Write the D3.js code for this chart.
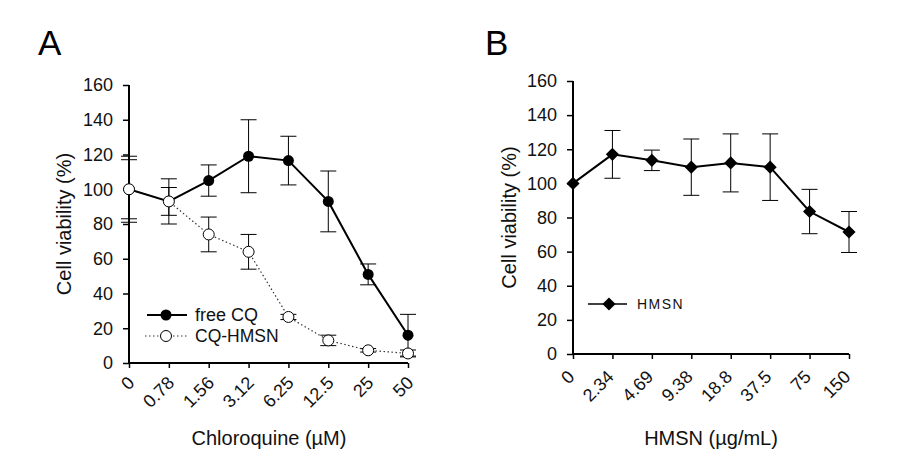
<!DOCTYPE html>
<html><head><meta charset="utf-8">
<script src="https://cdn.jsdelivr.net/npm/d3@7"></script>
<style>
body{margin:0;background:#fff;}
svg{display:block;font-family:Arial,"Liberation Sans",sans-serif;}
</style></head>
<body><svg id="c" width="900" height="453"></svg>
<script>
// Panel A data
const catsA = ["0","0.78","1.56","3.12","6.25","12.5","25","50"];
const freeCQ = [100, 93, 105, 119, 116.5, 93, 51, 16];
const freeCQErr = [19, 13, 9, 21, 14, 17.5, 6, 12];
const cqHMSN = [100, 93, 74, 64, 26.5, 13, 7.3, 5.5];
const cqHMSNErr = [17, 8, 10, 10, 1.5, 3, 1, 2];
// Panel B data
const catsB = ["0","2.34","4.69","9.38","18.8","37.5","75","150"];
const hmsn = [100, 117, 113.5, 109.5, 112, 109.5, 83.5, 71.5];
const hmsnErr = [0, 14, 6, 16.5, 17, 19.5, 13, 12];
const yTicks = [0,20,40,60,80,100,120,140,160];

const svg = d3.select("#c");

function panel(opt){
  const g = svg.append("g");
  const x = d3.scalePoint().domain(opt.cats).range([opt.x0, opt.x1]);
  const y = d3.scaleLinear().domain([0,160]).range([opt.y0, opt.y1]);
  // y axis
  const ya = g.append("g").attr("transform",`translate(${opt.x0},0)`)
    .call(d3.axisLeft(y).tickValues(yTicks).tickSize(6).tickPadding(10));
  ya.select(".domain").attr("stroke","#000").attr("stroke-width",2).attr("d",`M0,${opt.y1}V${opt.y0}`);
  ya.selectAll(".tick line").attr("stroke","#000").attr("stroke-width",1.5);
  ya.selectAll(".tick text").attr("font-size",18).attr("fill","#111").attr("font-family","Arial,'Liberation Sans',sans-serif");
  // x axis
  const xa = g.append("g").attr("transform",`translate(0,${opt.y0})`)
    .call(d3.axisBottom(x).tickSize(5));
  xa.select(".domain").attr("stroke","#000").attr("stroke-width",2).attr("d",`M${opt.x0},0H${opt.x1}`);
  xa.selectAll(".tick line").attr("stroke","#000").attr("stroke-width",1.5);
  xa.selectAll(".tick text").attr("font-size",18).attr("fill","#111")
    .attr("font-family","Arial,'Liberation Sans',sans-serif")
    .attr("x",0).attr("y",0).attr("dy",0)
    .attr("text-anchor","end")
    .attr("transform",`translate(${opt.lx},${opt.ly}) rotate(-45)`);
  // titles
  g.append("text").attr("x",opt.panelX).attr("y",55).attr("font-size",35).attr("fill","#000").text(opt.panel);
  g.append("text").attr("transform",`translate(${opt.ytX},${(opt.y0+opt.y1)/2}) rotate(-90)`)
    .attr("text-anchor","middle").attr("font-size",20).attr("fill","#111").text("Cell viability (%)");
  g.append("text").attr("x",opt.xtX).attr("y",445).attr("text-anchor","middle")
    .attr("font-size",20).attr("fill","#111").text(opt.xTitle);
  return {g,x,y};
}

function errorBars(g,x,y,cats,vals,errs){
  cats.forEach((c,i)=>{
    if(!errs[i]) return;
    const cx = x(c), t = y(vals[i]+errs[i]), b = y(Math.max(0,vals[i]-errs[i]));
    g.append("path").attr("d",`M${cx},${t}V${b}M${cx-8},${t}H${cx+8}M${cx-8},${b}H${cx+8}`)
      .attr("stroke","#000").attr("stroke-width",1).attr("fill","none");
  });
}

// Panel A
const A = panel({cats:catsA,x0:129,x1:408,y0:363,y1:85,lx:6,ly:21,panel:"A",panelX:38,ytX:71,xtX:269,xTitle:"Chloroquine (\u00b5M)"});
errorBars(A.g,A.x,A.y,catsA,cqHMSN,cqHMSNErr);
errorBars(A.g,A.x,A.y,catsA,freeCQ,freeCQErr);
const lineA = d3.line().x((d,i)=>A.x(catsA[i])).y(d=>A.y(d));
A.g.append("path").datum(cqHMSN).attr("d",lineA).attr("fill","none").attr("stroke","#333").attr("stroke-width",1.2).attr("stroke-dasharray","1.5,2.5");
A.g.append("path").datum(freeCQ).attr("d",lineA).attr("fill","none").attr("stroke","#000").attr("stroke-width",2);
A.g.selectAll(".fc").data(freeCQ).join("circle").attr("cx",(d,i)=>A.x(catsA[i])).attr("cy",d=>A.y(d)).attr("r",5.5).attr("fill","#000");
A.g.selectAll(".oc").data(cqHMSN).join("circle").attr("cx",(d,i)=>A.x(catsA[i])).attr("cy",d=>A.y(d)).attr("r",5.5).attr("fill","#fff").attr("stroke","#000").attr("stroke-width",1);
// legend A
A.g.append("line").attr("x1",147).attr("x2",187).attr("y1",315).attr("y2",315).attr("stroke","#000").attr("stroke-width",2);
A.g.append("circle").attr("cx",166).attr("cy",315).attr("r",5.5).attr("fill","#000");
A.g.append("text").attr("x",195).attr("y",321).attr("font-size",18).attr("fill","#111").text("free CQ");
A.g.append("line").attr("x1",145).attr("x2",187).attr("y1",336).attr("y2",336).attr("stroke","#333").attr("stroke-width",1.2).attr("stroke-dasharray","1.5,2.5");
A.g.append("circle").attr("cx",166).attr("cy",336).attr("r",5.5).attr("fill","#fff").attr("stroke","#000");
A.g.append("text").attr("x",195).attr("y",342).attr("font-size",17.5).attr("fill","#111").text("CQ-HMSN");

// Panel B
const B = panel({cats:catsB,x0:573,x1:849,y0:354,y1:81,lx:2,ly:24,panel:"B",panelX:485,ytX:516,xtX:711,xTitle:"HMSN (\u00b5g/mL)"});
errorBars(B.g,B.x,B.y,catsB,hmsn,hmsnErr);
const lineB = d3.line().x((d,i)=>B.x(catsB[i])).y(d=>B.y(d));
B.g.append("path").datum(hmsn).attr("d",lineB).attr("fill","none").attr("stroke","#000").attr("stroke-width",2);
const diamond = d3.symbol().type(d3.symbolDiamond2).size(110);
B.g.selectAll(".dm").data(hmsn).join("path").attr("d",diamond)
  .attr("transform",(d,i)=>`translate(${B.x(catsB[i])},${B.y(d)})`).attr("fill","#000");
// legend B
B.g.append("line").attr("x1",588).attr("x2",627).attr("y1",304).attr("y2",304).attr("stroke","#000").attr("stroke-width",1.5);
B.g.append("path").attr("d",diamond).attr("transform","translate(609,304)").attr("fill","#000");
B.g.append("text").attr("x",637).attr("y",309).attr("font-size",14).attr("letter-spacing",1.5).attr("fill","#111").text("HMSN");
</script></body></html>
